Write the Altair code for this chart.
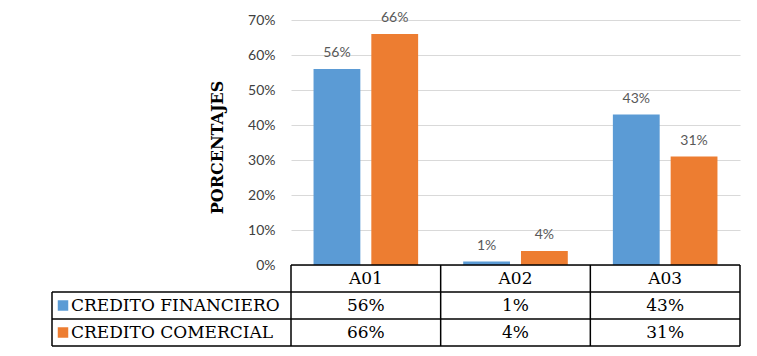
import altair as alt
import pandas as pd

categories = ["A01", "A02", "A03"]
series = ["CREDITO FINANCIERO", "CREDITO COMERCIAL"]
financiero = [0.56, 0.01, 0.43]
comercial = [0.66, 0.04, 0.31]
colors = ["#5B9BD5", "#ED7D31"]
y_ticks = [0, 0.1, 0.2, 0.3, 0.4, 0.5, 0.6, 0.7]

rows = []
for s, vals in zip(series, [financiero, comercial]):
    for c, v in zip(categories, vals):
        rows.append({"cat": c, "serie": s, "value": v, "label": f"{round(v * 100)}%"})
df = pd.DataFrame(rows)

HEADER = "HEADER"
row_order = [HEADER] + series
tab_rows = [{"cat": c, "row": HEADER, "label": c} for c in categories]
tab_rows += [{"cat": r["cat"], "row": r["serie"], "label": r["label"]} for r in rows]
df_tab = pd.DataFrame(tab_rows)
df_series = pd.DataFrame({"row": series, "serie": series})
df_cats = pd.DataFrame({"cat": categories})
df_one = pd.DataFrame({"k": [0]})

W, H, TH = 449, 245, 81
LEFT = -239
SERIF = "DejaVu Serif"
SANS = "Lato"

color = alt.Color("serie:N", scale=alt.Scale(domain=series, range=colors), legend=None)
xband = alt.X("cat:N", sort=categories, axis=None,
              scale=alt.Scale(domain=categories, paddingInner=0, paddingOuter=0))
xoff = alt.XOffset("serie:N", sort=series,
                   scale=alt.Scale(domain=series, paddingInner=0.19, paddingOuter=0.39))

yscale = alt.Scale(domain=[0, 0.7], nice=False)
yval = alt.Y("value:Q", scale=yscale,
             axis=alt.Axis(values=y_ticks, format=".0%", title="PORCENTAJES",
                           domain=False, ticks=False, grid=True, gridColor="#d9d9d9",
                           labelOverlap=False, labelFlush=False,
                           labelFont=SANS, labelFontSize=14, labelColor="#404040",
                           labelPadding=16, titleFont=SERIF, titleFontWeight="bold",
                           titleFontSize=16, titleColor="black", titlePadding=22,
                           titleY=127))

bars = alt.Chart().mark_bar().encode(color=color)
bar_labels = alt.Chart().mark_text(dy=-16, font=SANS, fontSize=14, color="#595959").encode(
    text="label:N")
top = alt.layer(bars, bar_labels, data=df).encode(
    x=xband, xOffset=xoff, y=yval).properties(width=W, height=H)

yrow = alt.Y("row:N", sort=row_order, axis=None,
             scale=alt.Scale(domain=row_order, paddingInner=0, paddingOuter=0))
yrow_top = alt.Y("row:N", sort=row_order, axis=None, bandPosition=0,
                 scale=alt.Scale(domain=row_order, paddingInner=0, paddingOuter=0))
xcat_left = alt.X("cat:N", sort=categories, axis=None, bandPosition=0,
                  scale=alt.Scale(domain=categories, paddingInner=0, paddingOuter=0))

LINE = dict(color="black", strokeWidth=1.5)

cells = alt.Chart(df_tab).mark_text(font=SERIF, fontSize=17, color="black").encode(
    x=xband, y=yrow, text="label:N")
legend_sq = alt.Chart(df_series).mark_square(size=110, opacity=1).encode(
    x=alt.value(LEFT + 11), y=yrow, color=color)
legend_txt = alt.Chart(df_series).mark_text(font=SERIF, fontSize=17, color="black", align="left").encode(
    x=alt.value(LEFT + 19), y=yrow, text="row:N")
vlines = alt.Chart(df_cats).mark_rule(**LINE).encode(
    x=xcat_left, y=alt.value(0), y2=alt.value(TH))
vright = alt.Chart(df_one).mark_rule(**LINE).encode(
    x=alt.value(W), y=alt.value(0), y2=alt.value(TH))
htop = alt.Chart(df_one).mark_rule(**LINE).encode(
    x=alt.value(0), x2=alt.value(W), y=alt.value(0))
hrows = alt.Chart(df_series).mark_rule(**LINE).encode(
    x=alt.value(LEFT), x2=alt.value(W), y=yrow_top)
hbottom = alt.Chart(df_one).mark_rule(**LINE).encode(
    x=alt.value(LEFT), x2=alt.value(W), y=alt.value(TH))
vleft = alt.Chart(df_series.iloc[:1]).mark_rule(**LINE).encode(
    x=alt.value(LEFT), y=yrow_top, y2=alt.value(TH))

table = alt.layer(cells, legend_sq, legend_txt, vlines, vright, htop, hrows, hbottom, vleft
                  ).properties(width=W, height=TH)

chart = alt.vconcat(top, table, spacing=0, bounds="flush").properties(
    padding={"left": 43, "top": 2, "right": 5, "bottom": 5}
).configure_view(stroke=None)

chart.save("out.html", embed_options={"renderer": "svg", "actions": False})
